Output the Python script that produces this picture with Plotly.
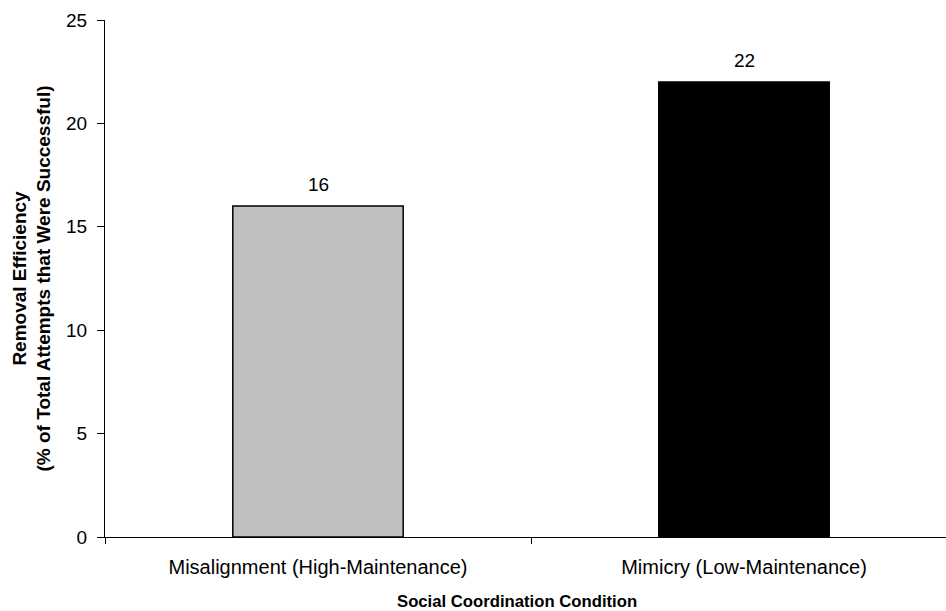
import plotly.graph_objects as go

categories = ["Misalignment (High-Maintenance)", "Mimicry (Low-Maintenance)"]
values = [16, 22]
bar_colors = ["#C0C0C0", "#000000"]
y_ticks = [0, 5, 10, 15, 20, 25]

FONT = "Liberation Sans, Arial, sans-serif"

fig = go.Figure()
fig.add_trace(go.Bar(
    x=categories, y=values, width=0.4,
    marker=dict(color=bar_colors, line=dict(color="#000000", width=1.5)),
    hoverinfo="skip",
))

for c, v in zip(categories, values):
    fig.add_annotation(x=c, y=v, text=str(v), showarrow=False,
                       yanchor="bottom", yshift=9,
                       font=dict(family=FONT, size=19, color="#000"))

fig.add_annotation(xref="paper", yref="paper", x=(517 - 105) / 841, y=-(601 - 537) / 517,
                   text="<b>Social Coordination Condition</b>", showarrow=False,
                   xanchor="center", yanchor="middle",
                   font=dict(family=FONT, size=16.7, color="#000"))
fig.add_annotation(xref="paper", yref="paper", x=(31 - 105) / 841, y=0.5,
                   text="<b>Removal Efficiency<br>(% of Total Attempts that Were Successful)</b>",
                   showarrow=False, textangle=-90, xanchor="center", yanchor="middle",
                   font=dict(family=FONT, size=19, color="#000"))

fig.update_layout(
    width=946, height=611,
    margin=dict(l=105, r=0, t=20, b=74),
    paper_bgcolor="white", plot_bgcolor="white",
    showlegend=False,
    xaxis=dict(
        type="category", range=[-0.5, -0.5 + 841 / 426],
        showline=True, linecolor="#000", linewidth=1,
        ticks="outside", tickson="boundaries", ticklen=6, tickcolor="#000",
        tickfont=dict(family=FONT, size=20, color="#000"),
        ticklabelstandoff=12,
        showgrid=False, zeroline=False,
    ),
    yaxis=dict(
        range=[0, 25], tickvals=y_ticks,
        showline=True, linecolor="#000", linewidth=1,
        ticks="outside", ticklen=7, tickcolor="#000",
        tickfont=dict(family=FONT, size=19, color="#000"),
        ticklabelstandoff=6,
        showgrid=False, zeroline=False,
    ),
)

fig.write_html("out.html", config={"displayModeBar": False},
               post_script="document.body.style.margin='0';document.body.style.padding='0';")
